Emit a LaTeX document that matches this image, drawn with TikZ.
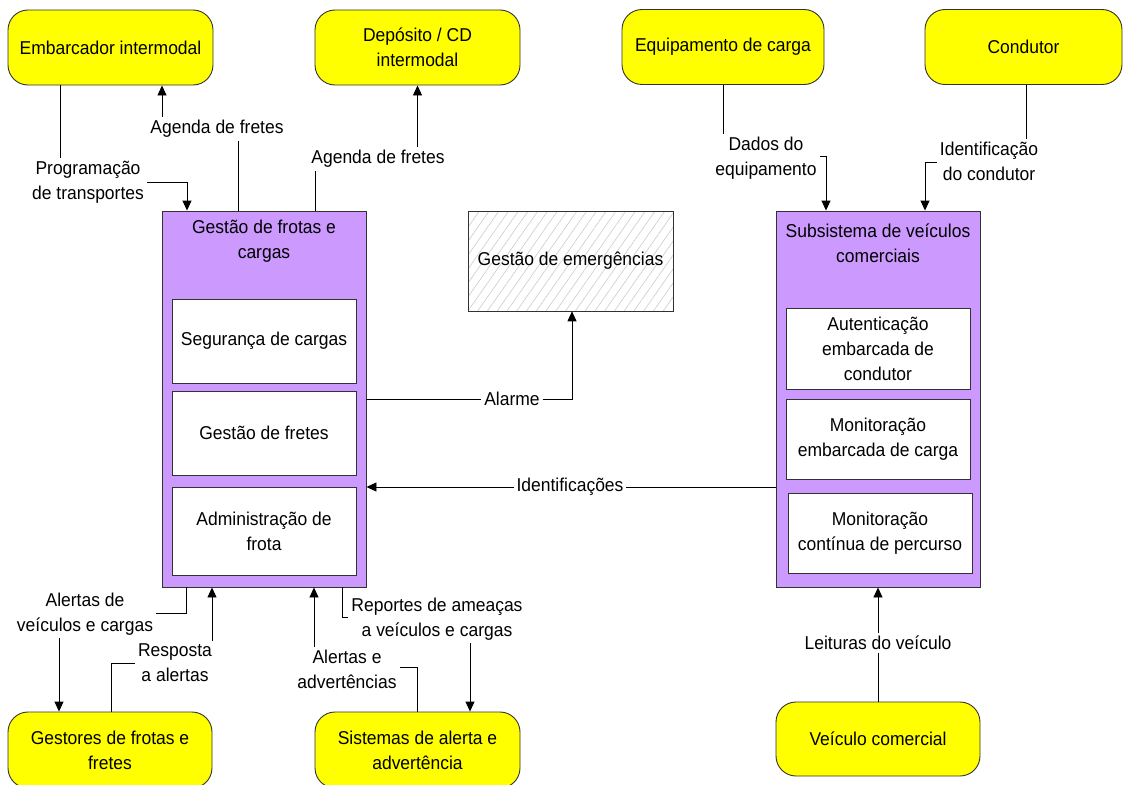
\documentclass[tikz,border=0pt]{standalone}
\usepackage{fontspec}
\setmainfont{Liberation Sans}[FakeStretch=0.94]
\usetikzlibrary{arrows.meta,patterns.meta}

\definecolor{actorfill}{RGB}{255,255,0}
\definecolor{subsysfill}{RGB}{204,153,255}
\definecolor{boxline}{RGB}{50,50,50}

\tikzset{
  base/.style={font=\fontsize{18.6}{25}\selectfont, align=center, inner sep=0pt},
  terminator/.style={base, draw=boxline, line width=0.9pt, fill=actorfill, rounded corners=20pt},
  subsystem/.style={base, draw=boxline, line width=0.9pt, fill=subsysfill},
  module/.style={base, draw=boxline, line width=0.9pt, fill=white},
  external/.style={base, draw=boxline, line width=0.9pt, preaction={fill=white},
    pattern={Lines[angle=55,distance=8pt,line width=0.6pt]}, pattern color=gray!40},
  heading/.style={base},
  flow/.style={draw=black, line width=0.9pt, -{Triangle[length=10pt,width=9pt]}},
  flowlabel/.style={base, fill=white, inner sep=3pt},
}

\begin{document}
\begin{tikzpicture}[x=1pt, y=-1pt]
\useasboundingbox (0,0) rectangle (1129,784);

% external actors
\node[terminator, minimum width=205pt, minimum height=75pt] (emb) at (110.5,47.5) {Embarcador intermodal};
\node[terminator, minimum width=205pt, minimum height=75pt] (dep) at (417.5,47.5) {Depósito / CD\\intermodal};
\node[terminator, minimum width=202pt, minimum height=75pt] (equip) at (723,47) {Equipamento de carga};
\node[terminator, minimum width=197pt, minimum height=75pt] (cond) at (1023.5,47) {Condutor};
\node[terminator, minimum width=204pt, minimum height=76pt] (gest) at (110,750) {Gestores de frotas e\\fretes};
\node[terminator, minimum width=205pt, minimum height=76pt] (sist) at (417.5,750) {Sistemas de alerta e\\advertência};
\node[terminator, minimum width=204pt, minimum height=74pt] (veic) at (878,739) {Veículo comercial};

% fleet and freight management subsystem
\node[subsystem, minimum width=204pt, minimum height=376pt] (gfc) at (264,399) {};
\node[heading] (gfct) at (264,241) {Gestão de frotas e\\cargas};
\node[module, minimum width=184pt, minimum height=84pt] (m1) at (264,341) {Segurança de cargas};
\node[module, minimum width=184pt, minimum height=84pt] (m2) at (264,433) {Gestão de fretes};
\node[module, minimum width=184pt, minimum height=88pt] (m3) at (264,531) {Administração de\\frota};

% commercial vehicle subsystem
\node[subsystem, minimum width=204pt, minimum height=376pt] (svc) at (878,399) {};
\node[heading] (svct) at (878,243) {Subsistema de veículos\\comerciais};
\node[module, minimum width=184pt, minimum height=81pt] (s1) at (878,348.5) {Autenticação\\embarcada de\\condutor};
\node[module, minimum width=184pt, minimum height=80pt] (s2) at (878,439) {Monitoração\\embarcada de carga};
\node[module, minimum width=184pt, minimum height=80pt] (s3) at (880,533) {Monitoração\\contínua de percurso};

% emergency management (external system)
\node[external, minimum width=205pt, minimum height=100pt] (emg) at (570.5,261) {Gestão de emergências};

% data flows
\draw[flow] ([xshift=-50.5pt]emb.south) -- ++(0,97) -| ([xshift=-77pt]gfc.north);
\draw[flow] ([xshift=-26pt]gfc.north) -- ++(0,-82) -| ([xshift=51.5pt]emb.south);
\draw[flow] ([xshift=51pt]gfc.north) -- ++(0,-52) -| (dep.south);
\draw[flow] (equip.south) -- ++(0,71) -| ([xshift=-52pt]svc.north);
\draw[flow] ([xshift=2.5pt]cond.south) -- ++(0,77) -| ([xshift=47pt]svc.north);
\draw[flow] (gfc.east) -| ([xshift=1.5pt]emg.south);
\draw[flow] ([yshift=-88pt]svc.west) -- ([yshift=-88pt]gfc.east);
\draw[flow] ([xshift=-78pt]gfc.south) -- ++(0,26) -| ([xshift=-51pt]gest.north);
\draw[flow] ([xshift=1pt]gest.north) -- ++(0,-48) -| ([xshift=-52pt]gfc.south);
\draw[flow] (sist.north) -- ++(0,-44) -| ([xshift=50pt]gfc.south);
\draw[flow] ([xshift=78pt]gfc.south) -- ++(0,30) -| ([xshift=52.5pt]sist.north);
\draw[flow] (veic.north) -- (svc.south);

% flow labels
\node[flowlabel] (l1) at (88,182) {Programação\\de transportes};
\node[flowlabel] (l2) at (217,129) {Agenda de fretes};
\node[flowlabel] (l3) at (378,159) {Agenda de fretes};
\node[flowlabel] (l4) at (766,158) {Dados do\\equipamento};
\node[flowlabel] (l5) at (989,161) {Identificação\\do condutor};
\node[flowlabel] (l6) at (512,399) {Alarme};
\node[flowlabel] (l7) at (570,487) {Identificações};
\node[flowlabel] (l8) at (85,614) {Alertas de\\veículos e cargas};
\node[flowlabel] (l9) at (175,663) {Resposta\\a alertas};
\node[flowlabel] (l10) at (347,669) {Alertas e\\advertências};
\node[flowlabel] (l11) at (437,619) {Reportes de ameaças\\a veículos e cargas};
\node[flowlabel] (l12) at (878,643) {Leituras do veículo};
\end{tikzpicture}
\end{document}
